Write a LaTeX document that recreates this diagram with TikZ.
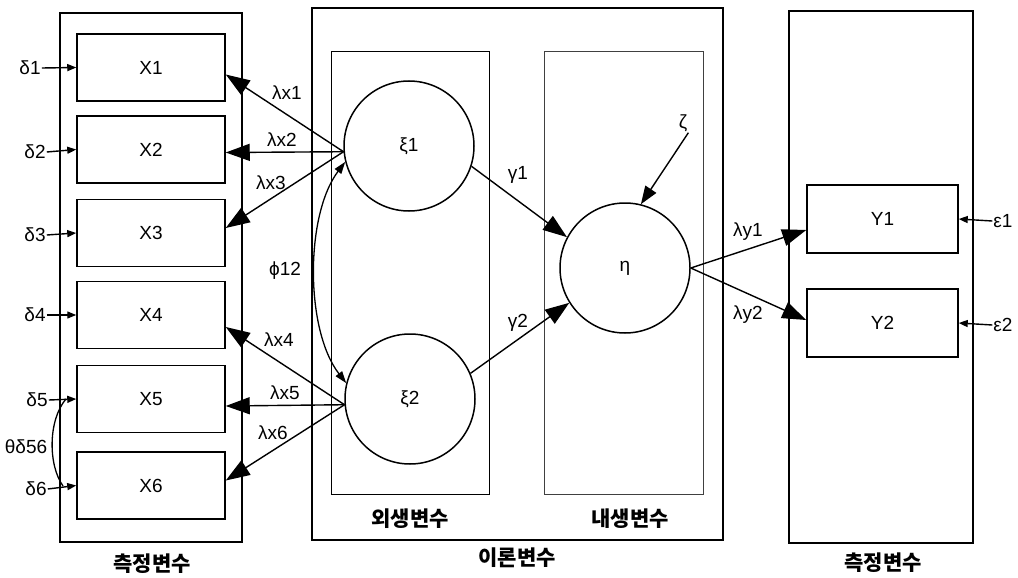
\documentclass[tikz,border=0pt]{standalone}
\usepackage{fontspec}
\setmainfont{Liberation Sans}
\newfontfamily\kr{Noto Sans CJK KR}
\usetikzlibrary{arrows.meta,calc}
\begin{document}
\begin{tikzpicture}[x=1pt,y=-1pt,
  outerbox/.style={draw,line width=2pt,inner sep=0pt},
  innerbox/.style={draw,line width=1pt,inner sep=0pt},
  mbox/.style={draw,line width=1.5pt,minimum width=148pt,minimum height=67pt,inner sep=0pt,font=\fontsize{19}{21}\selectfont},
  ybox/.style={draw,line width=1.5pt,minimum width=151pt,minimum height=68pt,inner sep=0pt,font=\fontsize{19}{21}\selectfont},
  lat/.style={draw,circle,line width=1.5pt,minimum size=130pt,inner sep=0pt,font=\fontsize{19}{21}\selectfont},
  lbl/.style={font=\fontsize{19}{21}\selectfont,inner sep=1pt},
  kor/.style={font=\kr\bfseries\fontsize{21}{23}\selectfont,inner sep=1pt},
  bigarrow/.style={line width=1.4pt,-{Triangle[length=24pt,width=17pt]}},
  midarrow/.style={line width=1.4pt,-{Triangle[length=18pt,width=13pt]}},
  smallarrow/.style={line width=1.4pt,-{Triangle[length=9pt,width=7pt]}},
  covarrow/.style={line width=1.3pt,{Triangle[length=12pt,width=8pt]}-{Triangle[length=12pt,width=8pt]}},
]
\useasboundingbox (0,0) rectangle (1018,578);
\fill[white] (0,0) rectangle (1018,578);

% frames
\node[outerbox,minimum width=182pt,minimum height=529pt] (Lbox) at (151,277.5) {};
\node[outerbox,minimum width=411pt,minimum height=532pt] (Mbox) at (517.5,274) {};
\node[innerbox,minimum width=158pt,minimum height=442pt] (Ibox1) at (410,273) {};
\node[innerbox,draw=black!75,minimum width=159pt,minimum height=442pt] (Ibox2) at (623.5,273) {};
\node[outerbox,minimum width=184pt,minimum height=532pt] (Rbox) at (881,277) {};

% measured X
\node[mbox] (X1) at (151,67.5) {X1};
\node[mbox] (X2) at (151,149.5) {X2};
\node[mbox] (X3) at (151,233) {X3};
\node[mbox] (X4) at (151,315) {X4};
\node[mbox] (X5) at (151,399) {X5};
\node[mbox] (X6) at (151,485.5) {X6};

% measured Y
\node[ybox] (Y1) at (882.5,219) {Y1};
\node[ybox] (Y2) at (882.5,323) {Y2};

% latent
\node[lat] (xi1) at (409,146) {ξ1};
\node[lat] (xi2) at (410,399) {ξ2};
\node[lat] (eta) at (625,268) {η};

% errors
\node[lbl] (d1) at (30,68) {δ1};
\node[lbl] (d2) at (35,152) {δ2};
\node[lbl] (d3) at (35,235) {δ3};
\node[lbl] (d4) at (35,315) {δ4};
\node[lbl] (d5) at (37,400) {δ5};
\node[lbl] (d6) at (36,489) {δ6};
\node[lbl] (th) at (26,447) {θδ56};
\node[lbl] (e1) at (1003,221) {ε1};
\node[lbl] (e2) at (1003,325) {ε2};
\node[lbl] (zeta) at (683,123) {ζ};

\foreach \i in {1,...,6}{\draw[smallarrow] (d\i.east) -- (X\i.west);}
\draw[smallarrow] (e1.west) -- (Y1.east);
\draw[smallarrow] (e2.west) -- (Y2.east);

\coordinate (t5) at (66,399);
\coordinate (t6) at (63,486);
\draw[line width=1.3pt] (t5) .. controls (48,420) and (48,465) .. (t6);

% loadings x
\draw[bigarrow] (xi1.185) -- ($(X1.east)+(0,7)$);
\draw[bigarrow] (xi1.185) -- ($(X2.east)+(0,3)$);
\draw[bigarrow] (xi1.185) -- ($(X3.east)+(0,-5)$);
\draw[bigarrow] (xi2.185) -- ($(X4.east)+(0,12)$);
\draw[bigarrow] (xi2.185) -- ($(X5.east)+(0,7)$);
\draw[bigarrow] (xi2.185) -- ($(X6.east)+(0,-5)$);

\node[lbl] (lx1) at (287,93) {λx1};
\node[lbl] (lx2) at (282,140) {λx2};
\node[lbl] (lx3) at (271,183) {λx3};
\node[lbl] (lx4) at (279,340) {λx4};
\node[lbl] (lx5) at (285,393) {λx5};
\node[lbl] (lx6) at (273,433) {λx6};

% covariance
\draw[covarrow] (xi1.194) .. controls (305,215) and (305,330) .. (xi2.166);
\node[lbl] (phi) at (285,271) {ϕ12};

% structural
\draw[bigarrow] (xi1.-18) -- (eta.152);
\draw[bigarrow] (xi2.23) -- (eta.212);
\node[lbl] (g1) at (518,175) {γ1};
\node[lbl] (g2) at (518,323) {γ2};
\draw[midarrow] (zeta.south east) -- (eta.76);

% loadings y
\draw[bigarrow] (eta.east) -- ($(Y1.west)+(0,11)$);
\draw[bigarrow] (eta.east) -- ($(Y2.west)+(0,-3)$);
\node[lbl] (ly1) at (748,232) {λy1};
\node[lbl] (ly2) at (748,315) {λy2};

% group labels
\node[kor] (k1) at (152,564) {측정변수};
\node[kor] (k2) at (517,558) {이론변수};
\node[kor] (k3) at (410,519) {외생변수};
\node[kor] (k4) at (630,519) {내생변수};
\node[kor] (k5) at (883,563) {측정변수};
\end{tikzpicture}
\end{document}
